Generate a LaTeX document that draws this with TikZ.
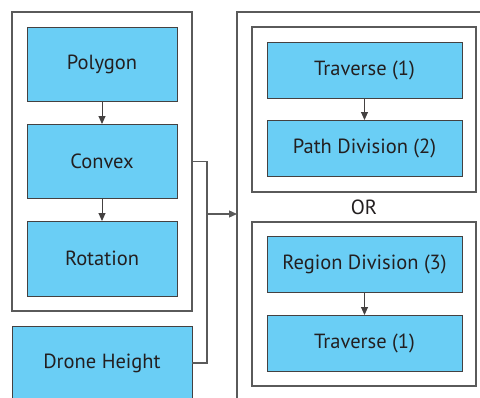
\documentclass[tikz,border=0pt]{standalone}
\usepackage{fontspec}
\setmainfont{PT Sans}
\usetikzlibrary{arrows.meta}
\definecolor{boxblue}{RGB}{106,206,245}
\definecolor{frame}{RGB}{90,90,90}
\definecolor{ink}{RGB}{35,31,32}
\tikzset{
  x=1pt, y=-1pt,
  group/.style={draw=frame, line width=1.3pt, fill=white},
  stage/.style={draw=ink!85, line width=1pt, fill=boxblue},
  label/.style={text=ink, font=\fontsize{20.5}{24}\selectfont},
  flow/.style={draw=ink!85, line width=1pt, -{Triangle[length=8pt,width=7pt]}},
  link/.style={draw=frame, line width=1.3pt},
}
\newcommand{\boxat}[6]{% name, x1, y1, x2, y2, text
  \path[stage] (#2,#3) rectangle (#4,#5);
  \node[label] (#1) at ({(#2+#4)/2},{(#3+#5)/2}) {#6};
  \coordinate (#1-n) at ({(#2+#4)/2},#3);
  \coordinate (#1-s) at ({(#2+#4)/2},#5);
}
\begin{document}
\begin{tikzpicture}
\useasboundingbox (0,0) rectangle (480,397);
\fill[white] (0,0) rectangle (480,397);

% left group: shape preparation
\path[group] (12,12) rectangle (192,311);
\coordinate (leftgrp-e) at (192,161.5);
\boxat{poly}{27}{27}{177}{101}{Polygon}
\boxat{conv}{27}{124}{177}{198}{Convex}
\boxat{rot}{27}{221}{177}{296}{Rotation}
\draw[flow] (poly-s) -- (conv-n);
\draw[flow] (conv-s) -- (rot-n);

% drone height input
\boxat{height}{12}{326}{192}{400}{Drone Height}
\coordinate (height-e) at (192,363);

% right group: planning strategies
\path[group] (237,12) rectangle (496,416);
\coordinate (rightgrp-w) at (237,214);
\path[group] (252,27) rectangle (476,192);
\boxat{trav}{267}{42}{462}{98}{Traverse (1)}
\boxat{pdiv}{267}{120}{462}{176}{Path Division (2)}
\draw[flow] (trav-s) -- (pdiv-n);

\node[label] (or) at (364,207) {OR};

\path[group] (252,222) rectangle (476,386);
\boxat{rdiv}{267}{236}{462}{292}{Region Division (3)}
\boxat{trav2}{267}{315}{462}{371}{Traverse (1)}
\draw[flow] (rdiv-s) -- (trav2-n);

% merge of both inputs into the planner
\coordinate (bus-top) at (207,161.5);
\coordinate (bus-bot) at (207,363);
\coordinate (bus-mid) at (207,214);
\draw[link] (leftgrp-e) -- (bus-top) -- (bus-bot) -- (height-e);
\draw[flow, draw=frame, line width=1.3pt] (bus-mid) -- (rightgrp-w);
\end{tikzpicture}
\end{document}
